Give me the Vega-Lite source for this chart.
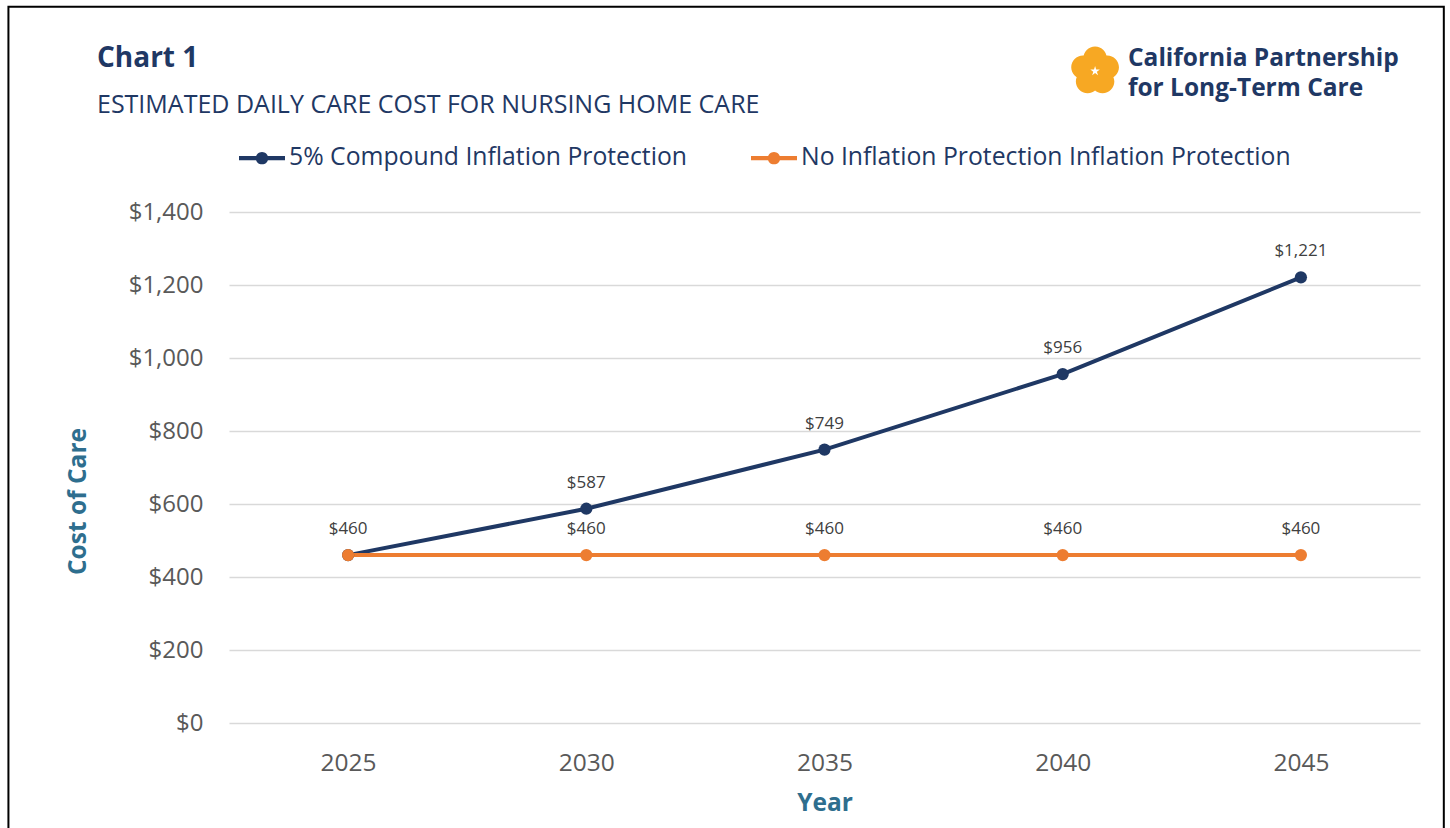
{
  "$schema": "https://vega.github.io/schema/vega-lite/v6.json",
  "width": 1191,
  "height": 511,
  "autosize": {"type": "none"},
  "padding": {"left": 229, "top": 212, "right": 30, "bottom": 105},
  "background": "white",
  "config": {
    "font": "Open Sans",
    "view": {"stroke": null}
  },
  "title": {
    "text": "Chart 1",
    "subtitle": "ESTIMATED DAILY CARE COST FOR NURSING HOME CARE",
    "anchor": "start",
    "frame": "group",
    "dx": -132,
    "offset": -112,
    "font": "Open Sans",
    "fontSize": 28,
    "fontWeight": "bold",
    "color": "#1F3864",
    "subtitleFont": "Open Sans",
    "subtitleFontSize": 25,
    "subtitleColor": "#1F3864",
    "subtitlePadding": 20
  },
  "data": {
    "values": [
      {"year": 2025, "series": "5% Compound Inflation Protection", "cost": 460},
      {"year": 2030, "series": "5% Compound Inflation Protection", "cost": 587},
      {"year": 2035, "series": "5% Compound Inflation Protection", "cost": 749},
      {"year": 2040, "series": "5% Compound Inflation Protection", "cost": 956},
      {"year": 2045, "series": "5% Compound Inflation Protection", "cost": 1221},
      {"year": 2025, "series": "No Inflation Protection Inflation Protection", "cost": 460},
      {"year": 2030, "series": "No Inflation Protection Inflation Protection", "cost": 460},
      {"year": 2035, "series": "No Inflation Protection Inflation Protection", "cost": 460},
      {"year": 2040, "series": "No Inflation Protection Inflation Protection", "cost": 460},
      {"year": 2045, "series": "No Inflation Protection Inflation Protection", "cost": 460}
    ]
  },
  "encoding": {
    "x": {
      "field": "year", "type": "quantitative",
      "scale": {"domain": [2022.5, 2047.5], "nice": false, "zero": false},
      "axis": {
        "values": [2025, 2030, 2035, 2040, 2045],
        "format": "d",
        "grid": false, "ticks": false, "domain": false,
        "labelFontSize": 24.5, "labelColor": "#595959", "labelPadding": 28,
        "labelFont": "Open Sans",
        "title": "Year", "titleFontSize": 24.5, "titleFontWeight": "bold",
        "titleColor": "#2E6E8E", "titlePadding": 17, "titleFont": "Open Sans"
      }
    },
    "y": {
      "field": "cost", "type": "quantitative",
      "scale": {"domain": [0, 1400], "nice": false},
      "axis": {
        "values": [0, 200, 400, 600, 800, 1000, 1200, 1400],
        "format": "$,.0f",
        "grid": true, "gridColor": "#D9D9D9", "gridWidth": 1.3,
        "ticks": false, "domain": false,
        "labelFontSize": 24, "labelColor": "#595959", "labelPadding": 26,
        "labelFont": "Open Sans",
        "title": "Cost of Care", "titleFontSize": 24.5, "titleFontWeight": "bold",
        "titleColor": "#2E6E8E", "titleFont": "Open Sans",
        "titleX": -139, "titleY": 289
      }
    }
  },
  "layer": [
    {
      "transform": [{"filter": "datum.year == 2025 && datum.series == '5% Compound Inflation Protection'"}],
      "mark": {"type": "rect", "fill": null, "stroke": "black", "strokeWidth": 2, "clip": false},
      "encoding": {
        "x": {"datum": 2017.87},
        "x2": {"datum": 2048.0},
        "y": {"datum": 1962},
        "y2": {"datum": -400}
      }
    },
    {
      "mark": {"type": "line", "strokeWidth": 4},
      "encoding": {
        "color": {
          "field": "series", "type": "nominal",
          "scale": {"domain": ["5% Compound Inflation Protection", "No Inflation Protection Inflation Protection"], "range": ["#1F3864", "#ED7D31"]},
          "legend": {
            "orient": "none", "legendX": 10, "legendY": -77,
            "direction": "horizontal", "title": null,
            "symbolType": "M-1,-0.09 L1,-0.09 L1,0.09 L-1,0.09 Z M-0.27,0 A0.27,0.27 0 1,1 0.27,0 A0.27,0.27 0 1,1 -0.27,0 Z",
            "symbolSize": 2116, "symbolOpacity": 1, "symbolStrokeWidth": 0,
            "labelFontSize": 24.75, "labelColor": "#1F3864", "labelFont": "Open Sans",
            "labelOffset": 4, "columnPadding": 64, "labelLimit": 1000,
            "encode": {"symbols": {"update": {"fill": {"scale": "color", "field": "value"}, "strokeWidth": {"value": 0}, "opacity": {"value": 1}}}}
          }
        }
      }
    },
    {
      "mark": {"type": "point", "filled": true, "opacity": 1, "size": 150},
      "encoding": {
        "color": {
          "field": "series", "type": "nominal",
          "legend": {
            "orient": "none", "legendX": 10, "legendY": -77,
            "direction": "horizontal", "title": null,
            "symbolType": "M-1,-0.09 L1,-0.09 L1,0.09 L-1,0.09 Z M-0.27,0 A0.27,0.27 0 1,1 0.27,0 A0.27,0.27 0 1,1 -0.27,0 Z",
            "symbolSize": 2116, "symbolOpacity": 1, "symbolStrokeWidth": 0,
            "labelFontSize": 24.75, "labelColor": "#1F3864", "labelFont": "Open Sans",
            "labelOffset": 4, "columnPadding": 64, "labelLimit": 1000,
            "encode": {"symbols": {"update": {"fill": {"scale": "color", "field": "value"}, "strokeWidth": {"value": 0}, "opacity": {"value": 1}}}}
          }
        }
      }
    },
    {
      "transform": [{"filter": "datum.series != '5% Compound Inflation Protection' || datum.year != 2025"}],
      "mark": {"type": "text", "dy": -26, "fontSize": 17, "color": "#404040", "font": "Open Sans"},
      "encoding": {
        "text": {"field": "cost", "type": "quantitative", "format": "$,.0f"}
      }
    },
    {
      "transform": [{"filter": "datum.year == 2025 && datum.series == '5% Compound Inflation Protection'"}],
      "mark": {"type": "point", "filled": true, "opacity": 1, "color": "#F7A823", "size": 2400, "clip": false,
        "shape": "M-0.48,-0.52 A0.48,0.48 0 1,0 0.48,-0.52 A0.48,0.48 0 1,0 -0.48,-0.52 Z M0.0146,-0.1607 A0.48,0.48 0 1,0 0.9746,-0.1607 A0.48,0.48 0 1,0 0.0146,-0.1607 Z M-0.1744,0.4207 A0.48,0.48 0 1,0 0.7856,0.4207 A0.48,0.48 0 1,0 -0.1744,0.4207 Z M-0.7856,0.4207 A0.48,0.48 0 1,0 0.1744,0.4207 A0.48,0.48 0 1,0 -0.7856,0.4207 Z M-0.9746,-0.1607 A0.48,0.48 0 1,0 -0.0146,-0.1607 A0.48,0.48 0 1,0 -0.9746,-0.1607 Z"},
      "encoding": {"x": {"datum": 2040.68}, "y": {"datum": 1786}}
    },
    {
      "transform": [{"filter": "datum.year == 2025 && datum.series == '5% Compound Inflation Protection'"}],
      "mark": {"type": "point", "filled": true, "opacity": 1, "color": "white", "size": 100, "clip": false,
        "shape": "M0,-1L0.22,-0.3L0.95,-0.31L0.36,0.12L0.59,0.81L0,0.38L-0.59,0.81L-0.36,0.12L-0.95,-0.31L-0.22,-0.3Z"},
      "encoding": {"x": {"datum": 2040.68}, "y": {"datum": 1786}}
    },
    {
      "transform": [{"filter": "datum.year == 2025 && datum.series == '5% Compound Inflation Protection'"}],
      "mark": {"type": "text", "align": "left", "baseline": "alphabetic", "fontSize": 24.5, "fontWeight": "bold", "color": "#1F3864", "font": "Open Sans", "clip": false},
      "encoding": {
        "x": {"datum": 2041.37}, "y": {"datum": 1801},
        "text": {"value": "California Partnership"}
      }
    },
    {
      "transform": [{"filter": "datum.year == 2025 && datum.series == '5% Compound Inflation Protection'"}],
      "mark": {"type": "text", "align": "left", "baseline": "alphabetic", "fontSize": 24.5, "fontWeight": "bold", "color": "#1F3864", "font": "Open Sans", "clip": false},
      "encoding": {
        "x": {"datum": 2041.37}, "y": {"datum": 1717},
        "text": {"value": "for Long-Term Care"}
      }
    }
  ]
}
